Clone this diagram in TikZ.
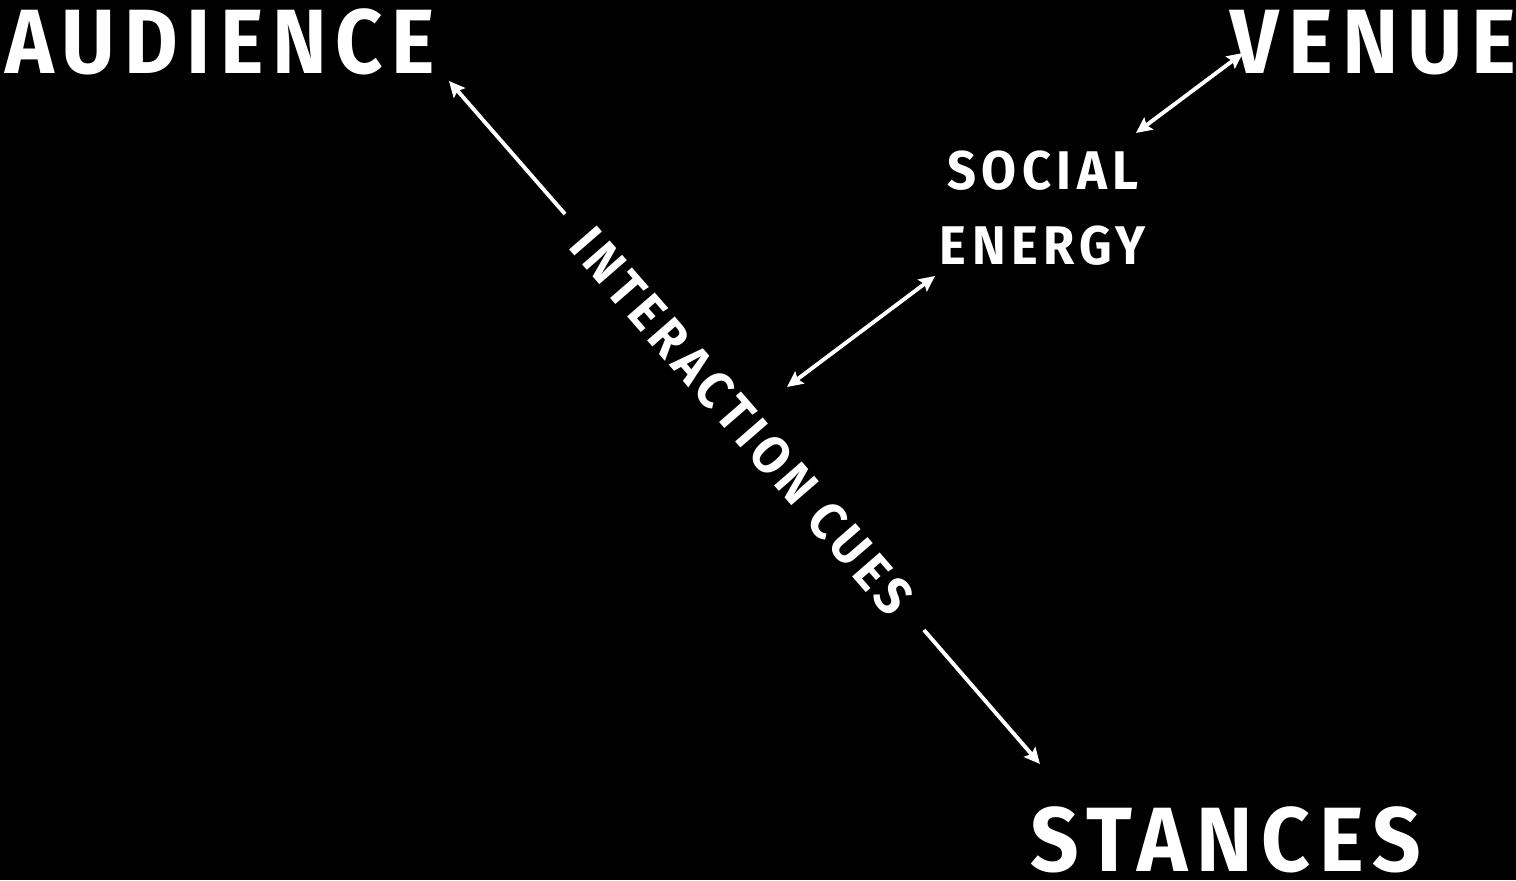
\documentclass[tikz,border=0pt]{standalone}
\usepackage{fontspec}
\usepackage{tikz}
\usetikzlibrary{arrows.meta}
\newfontfamily\dinfont{Fira Sans}[FakeStretch=0.93, LetterSpace=10]

\tikzset{
    biglabel/.style={text=white, inner sep=0pt, font=\dinfont\bfseries\fontsize{52}{52}\selectfont},
    smalllabel/.style={text=white, inner sep=0pt, font=\dinfont\bfseries\fontsize{31}{31}\selectfont},
    cuelabel/.style={text=white, inner sep=0pt, font=\dinfont\bfseries\fontsize{30}{30}\selectfont},
    link/.style={draw=white, line width=2.2pt, -{Stealth[length=9pt, width=8.5pt, inset=1.5pt]}},
    twoway/.style={link, {Stealth[length=9pt, width=8.5pt, inset=1.5pt]}-{Stealth[length=9pt, width=8.5pt, inset=1.5pt]}}
}

\begin{document}
\begin{tikzpicture}[x=0.02cm, y=-0.02cm]

            % background
            \fill[black] (0,0) rectangle (1516,880);
            \useasboundingbox (0,0) rectangle (1516,880);

            % labels
            \node[biglabel, anchor=base west, xscale=0.97] (audience) at (5,73) {AUDIENCE};
            \node[biglabel, anchor=base east] (venue) at (1517,73) {VENUE};
            \node[biglabel, anchor=base west] (stances) at (1030,871) {STANCES};
            \node[smalllabel, anchor=base] (social) at (1043,189) {SOCIAL};
            \node[smalllabel, anchor=base] (energy) at (1043,264) {ENERGY};
            \node[cuelabel, rotate=-49] (cues) at (742,421) {INTERACTION CUES};

            % arrow ends
            \coordinate (A1) at (565,214);
            \coordinate (A2) at (449,81);
            \coordinate (B1) at (1136,133);
            \coordinate (B2) at (1243,53);
            \coordinate (C1) at (787,387);
            \coordinate (C2) at (935,276);
            \coordinate (D1) at (924,630);
            \coordinate (D2) at (1040,764);

            % arrows
            \draw[link] (A1) -- (A2);
            \draw[twoway] (B1) -- (B2);
            \draw[twoway] (C1) -- (C2);
            \draw[link] (D1) -- (D2);

\end{tikzpicture}
\end{document}
